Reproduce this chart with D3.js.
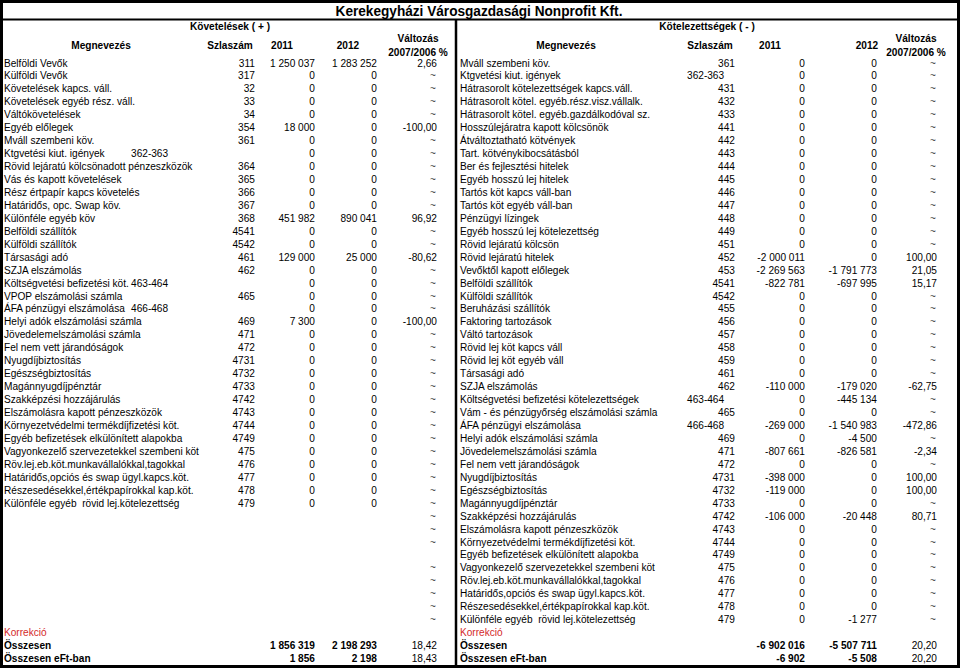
<!DOCTYPE html>
<html>
<head>
<meta charset="utf-8">
<script src="https://cdn.jsdelivr.net/npm/d3@7"></script>
<style>
  body { margin: 0; background: #fff; }
  svg { display: block; font-family: "Liberation Sans", Arial, Helvetica, sans-serif; }
  svg text { white-space: pre; }
</style>
</head>
<body>
<div id="container"></div>
<script>
const title = "Kerekegyházi Városgazdasági Nonprofit Kft.";
const sideTitles = ["Követelések ( + )", "Kötelezettségek ( - )"];
const colHeaders = ["Megnevezés", "Szlaszám", "2011", "2012"];
const changeHeader = ["Változás", "2007/2006 %"];
const footLabels = ["Korrekció", "Összesen", "Összesen eFt-ban"];

// Követelések (left side)
const leftNames = [
  "Belföldi Vevők", "Külföldi Vevők", "Követelések kapcs. váll.", "Követelések egyéb rész. váll.",
  "Váltókövetelések", "Egyéb előlegek", "Mváll szembeni köv.", "Ktgvetési kiut. igények",
  "Rövid lejáratú kölcsönadott pénzeszközök", "Vás és kapott követelések", "Rész értpapír kapcs követelés",
  "Határidős, opc. Swap köv.", "Különféle egyéb köv", "Belföldi szállítók", "Külföldi szállítók",
  "Társasági adó", "SZJA elszámolás", "Költségvetési befizetési köt.", "VPOP elszámolási számla",
  "ÁFA pénzügyi elszámolása", "Helyi adók elszámolási számla", "Jövedelemelszámolási számla",
  "Fel nem vett járandóságok", "Nyugdíjbiztosítás", "Egészségbiztosítás", "Magánnyugdíjpénztár",
  "Szakképzési hozzájárulás", "Elszámolásra kapott pénzeszközök", "Környezetvédelmi termékdíjfizetési köt.",
  "Egyéb befizetések elkülönített alapokba", "Vagyonkezelő szervezetekkel szembeni köt",
  "Röv.lej.eb.köt.munkavállalókkal,tagokkal", "Határidős,opciós és swap ügyl.kapcs.köt.",
  "Részesedésekkel,értékpapírokkal kap.köt.", "Különféle egyéb  rövid lej.kötelezettség",
  "", "", "", "", "", "", "", "", ""
];
const leftCodes = [
  "311", "317", "32", "33", "34", "354", "361", "362-363", "364", "365", "366", "367", "368",
  "4541", "4542", "461", "462", "463-464", "465", "466-468", "469", "471", "472", "4731", "4732",
  "4733", "4742", "4743", "4744", "4749", "475", "476", "477", "478", "479",
  "", "", "", "", "", "", "", "", ""
];
const left2011 = [
  1250037, 0, 0, 0, 0, 18000, 0, 0, 0, 0, 0, 0, 451982, 0, 0, 129000, 0, 0, 0, 0, 7300,
  0, 0, 0, 0, 0, 0, 0, 0, 0, 0, 0, 0, 0, 0,
  null, null, null, null, null, null, null, null, null
];
const left2012 = [
  1283252, 0, 0, 0, 0, 0, 0, 0, 0, 0, 0, 0, 890041, 0, 0, 25000, 0, 0, 0, 0, 0,
  0, 0, 0, 0, 0, 0, 0, 0, 0, 0, 0, 0, 0, 0,
  null, null, null, null, null, null, null, null, null
];
const leftChange = [
  2.66, "~", "~", "~", "~", -100.00, "~", "~", "~", "~", "~", "~", 96.92, "~", "~", -80.62,
  "~", "~", "~", "~", -100.00, "~", "~", "~", "~", "~", "~", "~", "~", "~", "~", "~", "~", "~", "~",
  "~", "~", "~", "", "~", "~", "~", "~", "~"
];
const leftTotalChange = [18.42, 18.43];

// Kötelezettségek (right side)
const rightNames = [
  "Mváll szembeni köv.", "Ktgvetési kiut. igények", "Hátrasorolt kötelezettségek kapcs.váll.",
  "Hátrasorolt kötel. egyéb.rész.visz.vállalk.", "Hátrasorolt kötel. egyéb.gazdálkodóval sz.",
  "Hosszúlejáratra kapott kölcsönök", "Átváltoztatható kötvények", "Tart. kötvénykibocsátásból",
  "Ber és fejlesztési hitelek", "Egyéb hosszú lej hitelek", "Tartós köt kapcs váll-ban",
  "Tartós köt egyéb váll-ban", "Pénzügyi lízingek", "Egyéb hosszú lej kötelezettség",
  "Rövid lejáratú kölcsön", "Rövid lejáratú hitelek", "Vevőktől kapott előlegek", "Belföldi szállítók",
  "Külföldi szállítók", "Beruházási szállítók", "Faktoring tartozások", "Váltó tartozások",
  "Rövid lej köt kapcs váll", "Rövid lej köt egyéb váll", "Társasági adó", "SZJA elszámolás",
  "Költségvetési befizetési kötelezettségek", "Vám - és pénzügyőrség elszámolási számla",
  "ÁFA pénzügyi elszámolása", "Helyi adók elszámolási számla", "Jövedelemelszámolási számla",
  "Fel nem vett járandóságok", "Nyugdíjbiztosítás", "Egészségbiztosítás", "Magánnyugdíjpénztár",
  "Szakképzési hozzájárulás", "Elszámolásra kapott pénzeszközök", "Környezetvédelmi termékdíjfizetési köt.",
  "Egyéb befizetések elkülönített alapokba", "Vagyonkezelő szervezetekkel szembeni köt",
  "Röv.lej.eb.köt.munkavállalókkal,tagokkal", "Határidős,opciós és swap ügyl.kapcs.köt.",
  "Részesedésekkel,értékpapírokkal kap.köt.", "Különféle egyéb  rövid lej.kötelezettség"
];
const rightCodes = [
  "361", "362-363", "431", "432", "433", "441", "442", "443", "444", "445", "446", "447", "448",
  "449", "451", "452", "453", "4541", "4542", "455", "456", "457", "458", "459", "461", "462",
  "463-464", "465", "466-468", "469", "471", "472", "4731", "4732", "4733", "4742", "4743",
  "4744", "4749", "475", "476", "477", "478", "479"
];
const right2011 = [
  0, 0, 0, 0, 0, 0, 0, 0, 0, 0, 0, 0, 0, 0, 0, -2000011, -2269563, -822781, 0, 0, 0, 0, 0, 0, 0,
  -110000, 0, 0, -269000, 0, -807661, 0, -398000, -119000, 0, -106000, 0, 0, 0, 0, 0, 0, 0, 0
];
const right2012 = [
  0, 0, 0, 0, 0, 0, 0, 0, 0, 0, 0, 0, 0, 0, 0, 0, -1791773, -697995, 0, 0, 0, 0, 0, 0, 0,
  -179020, -445134, 0, -1540983, -4500, -826581, 0, 0, 0, 0, -20448, 0, 0, 0, 0, 0, 0, 0, -1277
];
const rightChange = [
  "~", "~", "~", "~", "~", "~", "~", "~", "~", "~", "~", "~", "~", "~", "~", 100.00, 21.05, 15.17,
  "~", "~", "~", "~", "~", "~", "~", -62.75, "~", "~", -472.86, "~", -2.34, "~", 100.00, 100.00,
  "~", 80.71, "~", "~", "~", "~", "~", "~", "~", "~"
];
const rightTotalChange = [20.20, 20.20];

const width = 960, height = 668;
const squeeze = 0.88; // the scanned table is narrower than it is tall
const hu = d3.formatLocale({ decimal: ",", thousands: " ", grouping: [3], currency: ["", ""], minus: "-" });
const fmtInt = hu.format(",d");
const fmtPct = hu.format(".2f");

// row index -> vertical centre of the text line
const y = d3.scaleLinear().domain([0, 46]).range([62.5, 658]);

const sides = [
  { names: leftNames, codes: leftCodes, v11: left2011, v12: left2012, chg: leftChange, tot: leftTotalChange,
    col: { name: 4, code: 255, codeL: 131, v11: 315, v12: 377, chg: 437 },
    head: { side: 230, name: 101, code: 230, v11: 282, v12: 348, chg: 418 } },
  { names: rightNames, codes: rightCodes, v11: right2011, v12: right2012, chg: rightChange, tot: rightTotalChange,
    col: { name: 460, code: 735, codeL: 687, v11: 805, v12: 877, chg: 937 },
    head: { side: 707, name: 566, code: 710, v11: 770, v12: 867, chg: 916 } }
];

const svg = d3.select("#container").append("svg")
  .attr("width", width)
  .attr("height", height);

function txt(x, yy, s, anchor, opts = {}) {
  return svg.append("text")
    .attr("transform", `translate(${x},${yy}) scale(${squeeze},1)`)
    .attr("dy", "0.35em")
    .attr("text-anchor", anchor)
    .attr("font-size", opts.size || 11.5)
    .attr("font-weight", opts.bold ? "bold" : null)
    .attr("fill", opts.fill || "#000")
    .text(s);
}

// frame
svg.append("rect").attr("x", 1.5).attr("y", 1.5).attr("width", width - 3).attr("height", height - 3)
  .attr("fill", "none").attr("stroke", "#000").attr("stroke-width", 3);
svg.append("line").attr("x1", 0).attr("x2", width).attr("y1", 19.5).attr("y2", 19.5)
  .attr("stroke", "#000").attr("stroke-width", 2);
svg.append("line").attr("x1", 456).attr("x2", 456).attr("y1", 19).attr("y2", height)
  .attr("stroke", "#000").attr("stroke-width", 2.5);

txt(479, 10.5, title, "middle", { size: 15.5, bold: true });

sides.forEach((s, k) => {
  const h = s.head, c = s.col;
  txt(h.side, 25.5, sideTitles[k], "middle", { bold: true });
  txt(h.name, 44.5, colHeaders[0], "middle", { bold: true });
  txt(h.code, 44.5, colHeaders[1], "middle", { bold: true });
  txt(h.v11, 44.5, colHeaders[2], "middle", { bold: true });
  txt(h.v12, 44.5, colHeaders[3], "middle", { bold: true });
  txt(h.chg, 38, changeHeader[0], "middle", { bold: true });
  txt(h.chg, 51.5, changeHeader[1], "middle", { bold: true });

  s.names.forEach((name, i) => {
    const yy = y(i);
    if (name) txt(c.name, yy, name, "start");
    const code = s.codes[i];
    if (code) {
      if (code.includes("-")) txt(c.codeL, yy, code, "start");
      else txt(c.code, yy, code, "end");
    }
    if (s.v11[i] !== null) txt(c.v11, yy, fmtInt(s.v11[i]), "end");
    if (s.v12[i] !== null) txt(c.v12, yy, fmtInt(s.v12[i]), "end");
    const ch = s.chg[i];
    if (ch === "~") txt(c.chg - 1, yy, "~", "end", { fill: "#444" });
    else if (ch !== "") txt(c.chg, yy, fmtPct(ch), "end");
  });

  // footer rows
  const t11 = d3.sum(s.v11), t12 = d3.sum(s.v12);
  txt(c.name, y(44), footLabels[0], "start", { fill: "#d42a2a" });
  txt(c.name, y(45), footLabels[1], "start", { bold: true });
  txt(c.v11, y(45), fmtInt(t11), "end", { bold: true });
  txt(c.v12, y(45), fmtInt(t12), "end", { bold: true });
  txt(c.chg, y(45), fmtPct(s.tot[0]), "end");
  txt(c.name, y(46), footLabels[2], "start", { bold: true });
  txt(c.v11, y(46), fmtInt(Math.round(t11 / 1000)), "end", { bold: true });
  txt(c.v12, y(46), fmtInt(Math.round(t12 / 1000)), "end", { bold: true });
  txt(c.chg, y(46), fmtPct(s.tot[1]), "end");
});
</script>
</body>
</html>
